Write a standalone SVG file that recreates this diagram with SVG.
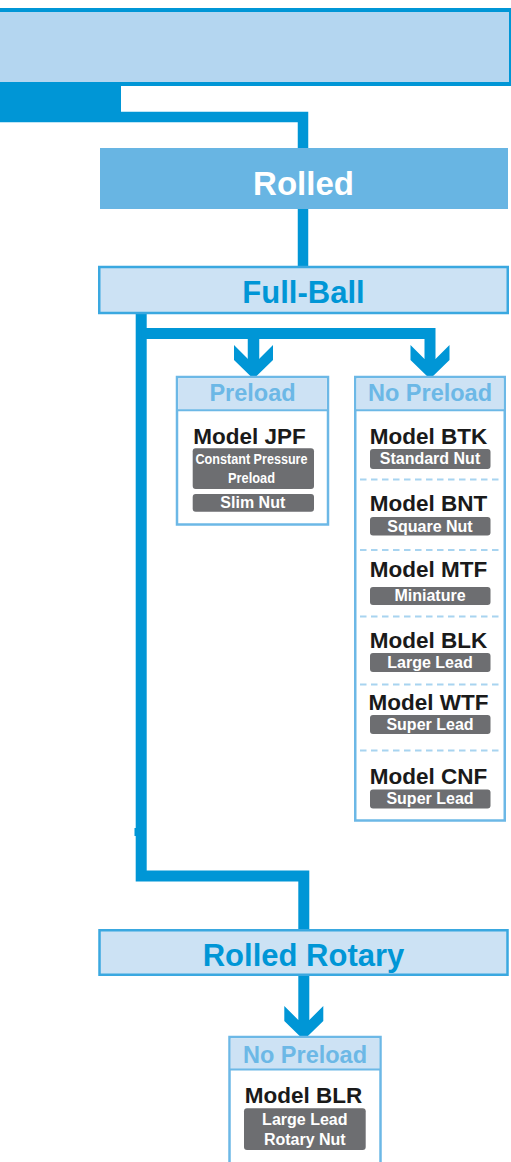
<svg xmlns="http://www.w3.org/2000/svg" xmlns:xlink="http://www.w3.org/1999/xlink" width="511" height="1162" viewBox="0 0 511 1162">
<style>
.line{fill:none;stroke:#0096d6;stroke-linejoin:miter;stroke-linecap:butt}
.fill{fill:#0096d6}
.catbox{fill:#cce2f4;stroke:#3aa8e0;stroke-width:2.5}
.cattxt{font-family:"Liberation Sans",Arial,sans-serif;font-weight:bold;font-size:31px;fill:#0096d6;text-anchor:middle}
.panel{fill:#ffffff;stroke:#6cb8e6;stroke-width:2.5}
.phead{fill:#cde2f4}
.psep{stroke:#6cb8e6;stroke-width:2}
.phtxt{font-family:"Liberation Sans",Arial,sans-serif;font-weight:bold;font-size:23.5px;fill:#6cb8e6;text-anchor:middle}
.model{font-family:"Liberation Sans",Arial,sans-serif;font-weight:bold;font-size:22.5px;fill:#1a1a1a;text-anchor:middle}
.tag{fill:#6d6e71}
.tagtxt{font-family:"Liberation Sans",Arial,sans-serif;font-weight:bold;font-size:16px;fill:#ffffff;text-anchor:middle}
.tagn{font-family:"Liberation Sans",Arial,sans-serif;font-weight:bold;font-size:14px;fill:#ffffff;text-anchor:middle}
.dash{stroke:#a8d4f0;stroke-width:2;stroke-dasharray:6.5 4.5}
</style>
<defs>
<path id="ah" d="M -19.5 -34 L -5.5 -20 L 5.5 -20 L 19.5 -34 L 19.5 -19 L 0 0 L -19.5 -19 Z"/>
</defs>

<g id="top-header">
<rect x="-4" y="10" width="515" height="74" fill="#b4d6f0" stroke="#0096d6" stroke-width="4"/>
</g>

<g id="connectors">
<rect class="fill" x="0" y="86" width="121" height="36"/>
<path class="line" stroke-width="10.5" d="M 0 116.9 H 303 V 148"/>
<path class="line" stroke-width="10.5" d="M 303 208 V 266"/>
<path class="line" stroke-width="11" d="M 141.2 314 V 876 H 303.8 V 929"/>
<rect class="fill" x="134.5" y="828" width="3" height="8"/>
<path class="line" stroke-width="11" d="M 141.2 333.5 H 430 V 361"/>
<path class="line" stroke-width="11.5" d="M 253.5 339 V 361"/>
<use href="#ah" class="fill" transform="translate(253.5 379)"/>
<use href="#ah" class="fill" transform="translate(430 379)"/>
<path class="line" stroke-width="11" d="M 303.8 975 V 1022"/>
<use href="#ah" class="fill" transform="translate(303.8 1040)"/>
</g>

<g id="rolled">
<rect x="100" y="148" width="408" height="61" fill="#68b5e3"/>
<text x="303.5" y="195" font-family="Liberation Sans, Arial, sans-serif" font-weight="bold" font-size="33" fill="#ffffff" text-anchor="middle">Rolled</text>
</g>

<g id="full-ball">
<rect class="catbox" x="99.25" y="267" width="408.5" height="46"/>
<text class="cattxt" x="303.5" y="303.3">Full-Ball</text>
</g>

<g id="preload">
<rect class="panel" x="177" y="377" width="151" height="147.5"/>
<rect class="phead" x="178.25" y="378.25" width="148.5" height="31.5"/>
<line class="psep" x1="177" y1="410.3" x2="328" y2="410.3"/>
<text class="phtxt" x="252.5" y="401">Preload</text>
<text class="model" x="249.5" y="444">Model JPF</text>
<rect class="tag" x="192.7" y="448.3" width="121.3" height="40.7" rx="3"/>
<text class="tagn" x="251.5" y="464" textLength="112" lengthAdjust="spacingAndGlyphs">Constant Pressure</text>
<text class="tagn" x="251.5" y="483.3" textLength="47" lengthAdjust="spacingAndGlyphs">Preload</text>
<rect class="tag" x="192.7" y="494" width="121.3" height="17.7" rx="3"/>
<text class="tagtxt" x="252.8" y="507.7">Slim Nut</text>
</g>

<g id="no-preload">
<rect class="panel" x="355.25" y="377" width="149.5" height="443.5"/>
<rect class="phead" x="356.5" y="378.25" width="147" height="31.5"/>
<line class="psep" x1="355.25" y1="410.3" x2="504.75" y2="410.3"/>
<text class="phtxt" x="430" y="401">No Preload</text>

<text class="model" x="428.5" y="444">Model BTK</text>
<rect class="tag" x="370" y="449" width="120.5" height="20" rx="3"/>
<text class="tagtxt" x="430" y="464">Standard Nut</text>
<line class="dash" x1="360" y1="479.5" x2="500" y2="479.5"/>

<text class="model" x="428.5" y="511">Model BNT</text>
<rect class="tag" x="370" y="517" width="120.5" height="18.5" rx="3"/>
<text class="tagtxt" x="430" y="531.5">Square Nut</text>
<line class="dash" x1="360" y1="550" x2="500" y2="550"/>

<text class="model" x="428.5" y="577">Model MTF</text>
<rect class="tag" x="370" y="587" width="120.5" height="18" rx="3"/>
<text class="tagtxt" x="430" y="601">Miniature</text>
<line class="dash" x1="360" y1="616.5" x2="500" y2="616.5"/>

<text class="model" x="428.5" y="648">Model BLK</text>
<rect class="tag" x="370" y="653" width="120.5" height="19" rx="3"/>
<text class="tagtxt" x="430" y="668">Large Lead</text>
<line class="dash" x1="360" y1="684.5" x2="500" y2="684.5"/>

<text class="model" x="428.5" y="710">Model WTF</text>
<rect class="tag" x="370" y="715" width="120.5" height="19" rx="3"/>
<text class="tagtxt" x="430" y="730">Super Lead</text>
<line class="dash" x1="360" y1="750.5" x2="500" y2="750.5"/>

<text class="model" x="428.5" y="784">Model CNF</text>
<rect class="tag" x="370" y="789.5" width="120.5" height="19" rx="3"/>
<text class="tagtxt" x="430" y="804">Super Lead</text>
</g>

<g id="rolled-rotary">
<rect class="catbox" x="99.5" y="930.25" width="408" height="44.5"/>
<text class="cattxt" x="303.5" y="965.7" font-size="32">Rolled Rotary</text>
</g>

<g id="no-preload-rotary">
<rect class="panel" x="229.5" y="1037" width="151" height="140"/>
<rect class="phead" x="230.75" y="1038.25" width="148.5" height="31"/>
<line class="psep" x1="229.5" y1="1069.5" x2="380.5" y2="1069.5"/>
<text class="phtxt" x="305" y="1063">No Preload</text>
<text class="model" x="303.5" y="1103">Model BLR</text>
<rect class="tag" x="244" y="1108.3" width="121.7" height="41.7" rx="3"/>
<text class="tagtxt" x="304.8" y="1125">Large Lead</text>
<text class="tagtxt" x="304.8" y="1145">Rotary Nut</text>
</g>
</svg>
